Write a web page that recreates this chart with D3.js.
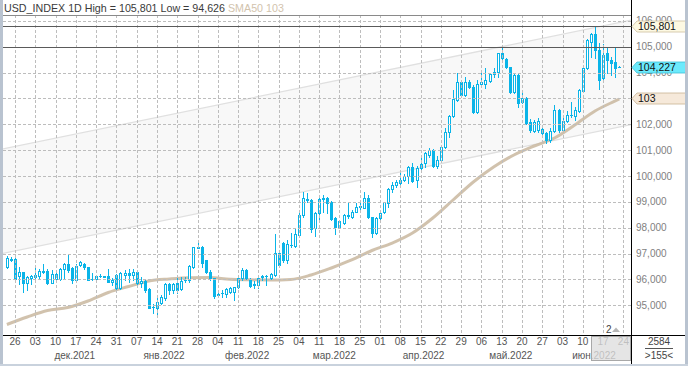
<!DOCTYPE html>
<html><head><meta charset="utf-8">
<script src="https://cdn.jsdelivr.net/npm/d3@7"></script>
<style>html,body{margin:0;padding:0;background:#fff;overflow:hidden}svg{display:block;font-family:"Liberation Sans",Arial,sans-serif}</style>
</head><body><svg id="c" width="688" height="366"></svg>
<script>
// ---------- DATA ----------
const firstDate = "2021-11-24";   // first daily bar (trading days Mon-Fri)
const openP  = [96495,96800,96790,96147,96276,95851,96070,96109,96134,96328,96341,95876,96018,96018,96392,96585,96431,95980,96560,96585,96469,96020,96005,96140,96115,96147,95889,96173,95657,96173,96263,96173,96302,95851,95941,95632,94948,94884,95077,95271,95812,95593,95851,95632,95960,95980,96469,97230,97269,96753,96302,96044,95425,95464,95425,95528,95528,95696,96044,96366,95980,95812,95786,96109,96134,96044,96173,97037,97398,96753,97333,97294,97720,98493,99100,99073,97978,98583,99120,99138,99009,98364,98016,98171,98467,98429,98622,98815,98777,99138,98403,97810,98364,98622,98970,99486,99653,99744,99847,100014,100362,99847,100298,100491,100813,101007,100400,100600,101110,101716,102334,102940,103649,103134,103624,103456,102489,103546,103559,103688,103946,104010,104745,104526,104203,103263,103907,102876,103031,102103,101742,101780,101819,101651,101393,101742,102553,101780,102141,102340,102322,102528,103301,104165,105196,105480,104874,103778,104745,104487,104423,104220];
const highP  = [96908,96850,96817,96469,96290,96147,96173,96469,96418,96585,96392,96366,96237,96431,96624,96946,96469,96585,96727,96624,96480,96263,96173,96212,96130,96405,96044,96199,96302,96366,96392,96392,96341,96109,95980,95657,95052,95335,95400,95851,95851,95851,96044,96109,96109,96560,97269,97436,97280,96760,96366,96050,95528,95593,95657,95722,95722,96109,96431,96400,96044,95954,96147,96173,96173,96237,97759,97075,97462,97526,97810,97978,98558,99396,99331,99099,98622,99138,99267,99176,99035,98429,98300,98519,98970,98686,98944,99073,99370,99267,98429,98429,98584,99009,99524,99782,99847,100195,100066,100388,100517,100388,100710,100942,101100,101050,100780,101200,101845,102360,103327,103971,103714,103843,103714,103520,103714,104036,104165,103997,104165,104771,105028,104552,104229,103971,103971,103263,103069,102193,102167,102257,101870,101716,101845,102747,102592,102360,102515,102876,102682,103353,104191,105299,105518,105801,105132,105093,104938,104616,104964,104250];
const lowP   = [96431,96727,96010,95825,95528,95593,95812,95980,96050,96263,95825,95851,96005,95980,96044,96302,95851,95954,96521,96392,95980,95980,95954,96109,96100,95889,95786,95644,95632,95980,95915,95980,95825,95722,95528,94910,94691,94626,95052,95206,95425,95464,95464,95593,95915,95902,96431,97205,96495,96237,95980,95271,95335,95335,95335,95464,95206,95657,95980,96018,95722,95657,95657,95980,95786,96005,96134,96521,96689,96624,97269,97269,97681,98429,99009,97849,97681,98235,98622,98583,98300,97759,97978,98145,98364,98364,98596,98686,98751,98364,97655,97759,98326,98558,98815,99396,99589,99692,99808,99718,99782,99563,100259,100362,100750,100350,100300,100550,101071,101497,102270,102902,103069,103095,103417,102450,102450,103520,103391,103649,103843,103843,104513,104165,103198,103198,102682,102811,102012,101716,101716,101716,101522,101265,101329,101716,101716,101716,102103,102296,102167,102489,103263,104126,104616,104552,103366,103649,103972,103907,103843,104200];
const closeP = [96817,96760,96020,96276,95851,96083,96147,96160,96328,96302,95851,96199,96199,96405,96585,96366,95980,96534,96663,96495,95980,96005,96147,96134,96109,95915,95980,95657,96237,96263,96180,96276,95851,95941,95593,94910,94930,95142,95335,95825,95593,95825,95593,95941,95980,96521,97269,97269,96624,96302,96044,95374,95410,95480,95632,95657,95696,96044,96366,96044,95748,95800,96044,96120,96140,96212,97037,96560,96753,97359,97350,97758,98493,99138,99080,97939,98583,99099,99138,98970,98326,98042,98274,98493,98480,98622,98790,98828,99138,98403,97810,98364,98558,98983,99486,99653,99782,99847,100014,100362,99821,100324,100452,100878,101007,100400,100600,101110,101716,102334,102966,103649,103134,103649,103456,102489,103546,103624,103714,103946,104010,104745,104552,104203,103263,103907,102837,103031,102064,101780,102103,102128,101651,101393,101742,102553,101780,102141,102360,102370,102553,103327,104165,105260,105480,104874,103714,104681,104487,104384,104191,104227];
const smaIdx = [0,5,10,15,20,25,30,35,40,45,50,55,60,65,70,75,80,85,90,95,100,105,110,115,120,125,130,135,140,145,150,151];
const smaVal = [94258,94548,94799,94915,95166,95495,95727,95940,96017,96067,96075,96005,95986,95978,95998,96172,96442,96752,97119,97409,97796,98376,99072,99768,100348,100812,101160,101469,101972,102514,102903,102977];
const yTicks = [95000,96000,97000,98000,99000,100000,101000,102000,103000,104000,105000,106000];
const channelUpper = [[0,101079],[150,105901]];
const channelLower = [[0,97038],[150,101860]];
const levelLines = [105801,105000];
const monthNames = ["янв","фев","мар","апр","май","июн","июл","авг","сен","окт","ноя","дек"];
const titleMain = "USD_INDEX 1D High = 105,801 Low = 94,626";
const titleSma = "SMA50 103";
const lastPrice = 104227, smaLast = 103, highLabel = 105801;
const footerTop = "2584", footerBottom = ">155<";

// ---------- BUILD ----------
const svg = d3.select("#c");
const W = 688, H = 366;
const P = {l:3, r:631, t:15, b:335};
const x = d3.scaleLinear().domain([2,152]).range([15,623.4]);
const y = d3.scaleLinear().domain([95000,105000]).range([305.3,46.7]);
const col = "#0ab4e8";
const fmt = v => d3.format(",")(v);

// dates of trading days
const dates = [];
{ let d = new Date(firstDate+"T00:00:00Z");
  while (dates.length < 160) { const wd = d.getUTCDay(); if (wd>0 && wd<6) dates.push(new Date(d)); d = new Date(d.getTime()+86400000); } }

svg.append("rect").attr("width",W).attr("height",H).attr("fill","#fff");
const defs = svg.append("defs");
defs.append("clipPath").attr("id","clip").append("rect").attr("x",P.l).attr("y",P.t).attr("width",P.r-P.l).attr("height",P.b-P.t);

const plot = svg.append("g").attr("clip-path","url(#clip)");

// channel
const lineAt = (pts, i) => pts[0][1] + (pts[1][1]-pts[0][1])*(i-pts[0][0])/(pts[1][0]-pts[0][0]);
const ext = [-10, 165];
const poly = [[ext[0],lineAt(channelUpper,ext[0])],[ext[1],lineAt(channelUpper,ext[1])],[ext[1],lineAt(channelLower,ext[1])],[ext[0],lineAt(channelLower,ext[0])]];
plot.append("polygon").attr("points", poly.map(p=>[x(p[0]),y(p[1])].join(",")).join(" ")).attr("fill","#f8f8f8");
[channelUpper, channelLower].forEach(ch => {
  plot.append("line").attr("x1",x(ext[0])).attr("y1",y(lineAt(ch,ext[0]))).attr("x2",x(ext[1])).attr("y2",y(lineAt(ch,ext[1])))
    .attr("stroke","#e0e0e0").attr("stroke-width",1.3);
});

// grid
const gridCol = "#bdbdbd";
yTicks.forEach(v => {
  const yy = Math.round(y(v))+0.5;
  svg.append("line").attr("x1",P.l).attr("x2",P.r).attr("y1",yy).attr("y2",yy).attr("stroke",gridCol).attr("stroke-dasharray","3,2");
});
const weekIdx = [];
dates.forEach((d,i) => { if (d.getUTCDay()===5 && x(i) < P.r) weekIdx.push(i); });
weekIdx.forEach(i => {
  const xx = Math.round(x(i))+0.5;
  svg.append("line").attr("x1",xx).attr("x2",xx).attr("y1",P.t).attr("y2",P.b).attr("stroke",gridCol).attr("stroke-dasharray","3,2");
});

// level lines
levelLines.forEach(v => {
  const yy = Math.round(y(v))+0.5;
  svg.append("line").attr("x1",P.l).attr("x2",P.r).attr("y1",yy).attr("y2",yy).attr("stroke","#5a5a5a");
});

// SMA
plot.append("path").datum(smaIdx.map((i,k)=>[i,smaVal[k]]))
  .attr("d", d3.line().x(d=>x(d[0])).y(d=>y(d[1])).curve(d3.curveMonotoneX))
  .attr("fill","none").attr("stroke","#c9b79f").attr("stroke-width",3).attr("stroke-opacity",0.85);

// candles
const cg = plot.append("g");
openP.forEach((o,i) => {
  const c = closeP[i], h = highP[i], l = lowP[i];
  const cx = Math.round(x(i));
  const yh = Math.round(y(h)), yl = Math.round(y(l));
  cg.append("line").attr("x1",cx+0.5).attr("x2",cx+0.5).attr("y1",yh).attr("y2",yl+1).attr("stroke",col);
  const top = Math.round(y(Math.max(o,c))), bot = Math.round(y(Math.min(o,c)));
  const hh = bot-top;
  if (hh < 1) {
    cg.append("rect").attr("x",cx-1).attr("y",top).attr("width",3).attr("height",1).attr("fill",col);
  } else if (c >= o) {
    cg.append("rect").attr("x",cx-0.5).attr("y",top+0.5).attr("width",2).attr("height",hh).attr("fill","#fff").attr("stroke",col);
  } else {
    cg.append("rect").attr("x",cx-1).attr("y",top).attr("width",3).attr("height",hh+1).attr("fill",col);
  }
});

// frame lines
svg.append("line").attr("x1",0).attr("x2",P.r).attr("y1",15.5).attr("y2",15.5).attr("stroke","#8a8a8a");
svg.append("line").attr("x1",0).attr("x2",W).attr("y1",P.b+0.5).attr("y2",P.b+0.5).attr("stroke","#000");
svg.append("line").attr("x1",P.r+0.5).attr("x2",P.r+0.5).attr("y1",0).attr("y2",H).attr("stroke","#000");

// title
const tt = svg.append("text").attr("x",4).attr("y",12).attr("font-size","10.7px");
tt.append("tspan").attr("fill","#3a3a3a").text(titleMain+" ");
tt.append("tspan").attr("fill","#d2c3ad").text(titleSma);

// right axis labels (the 103,000 one sits fully under the SMA tag, as in the reference)
yTicks.forEach(v => {
  if (v === smaLast*1000) return;
  svg.append("text").attr("x",636).attr("y",y(v)).attr("dy","0.36em").attr("font-size","10px").attr("fill","#7f7f7f").text(fmt(v));
});
function tag(v, txt, fill, stroke){
  const cy = Math.round(y(v))+0.5;
  const g = svg.append("g");
  g.append("polygon").attr("points",[[632,cy],[637,cy-5.5],[687,cy-5.5],[687,cy+5.5],[637,cy+5.5]].map(p=>p.join(",")).join(" "))
    .attr("fill",fill).attr("stroke",stroke).attr("stroke-width",0.8);
  g.append("text").attr("x",638).attr("y",cy).attr("dy","0.36em").attr("font-size","10.5px").attr("fill","#111").text(txt);
}
tag(highLabel, fmt(highLabel), "#fdf9e3", "#cdbf9f");
tag(lastPrice, fmt(lastPrice), "#6ceafc", "#3cbfd6");
tag(smaLast*1000, String(smaLast), "#f6e9da", "#c9b293");

// bottom axis: week labels
weekIdx.forEach(i => {
  svg.append("text").attr("x",x(i)).attr("y",345).attr("text-anchor","middle").attr("font-size","10px").attr("fill","#555")
    .text(d3.utcFormat("%d")(dates[i]));
});
// month labels
const axisEndIdx = x.invert(P.r);
const months = d3.groups(dates.map((d,i)=>({d,i})).filter(o=>o.i<=axisEndIdx), o=>o.d.getUTCFullYear()*12+o.d.getUTCMonth());
months.forEach(([k, arr]) => {
  if (arr.length < 10) return;
  const a = arr[0].i, b = Math.min(arr[arr.length-1].i, axisEndIdx);
  const d = arr[0].d;
  svg.append("text").attr("x",(x(a)+x(b))/2+3).attr("y",359).attr("text-anchor","middle").attr("font-size","10px").attr("fill","#555")
    .text(monthNames[d.getUTCMonth()]+"."+d.getUTCFullYear());
});
// highlighted future zone
svg.append("rect").attr("x",591.5).attr("y",336.5).attr("width",39).attr("height",24)
  .attr("fill","#dedede").attr("fill-opacity",0.78).attr("stroke","#a8a8a8");

// "2" marker
svg.append("text").attr("x",606).attr("y",333).attr("font-size","10px").attr("fill","#444").text("2");
svg.append("polygon").attr("points","612,332 616,327.5 620,332").attr("fill","#b5b5b5");

// footer counters
svg.append("text").attr("x",659).attr("y",345).attr("text-anchor","middle").attr("font-size","10px").attr("fill","#444").text(footerTop);
svg.append("line").attr("x1",645).attr("x2",673).attr("y1",348.5).attr("y2",348.5).attr("stroke","#555");
svg.append("text").attr("x",659).attr("y",359).attr("text-anchor","middle").attr("font-size","10px").attr("fill","#444").text(footerBottom);

// window borders
svg.append("rect").attr("x",0).attr("y",0).attr("width",3).attr("height",H).attr("fill","#b9c3d0");
svg.append("rect").attr("x",685).attr("y",0).attr("width",3).attr("height",H).attr("fill","#b9c3d0");
svg.append("rect").attr("x",0).attr("y",364).attr("width",W).attr("height",2).attr("fill","#c9d2dd");
</script></body></html>
